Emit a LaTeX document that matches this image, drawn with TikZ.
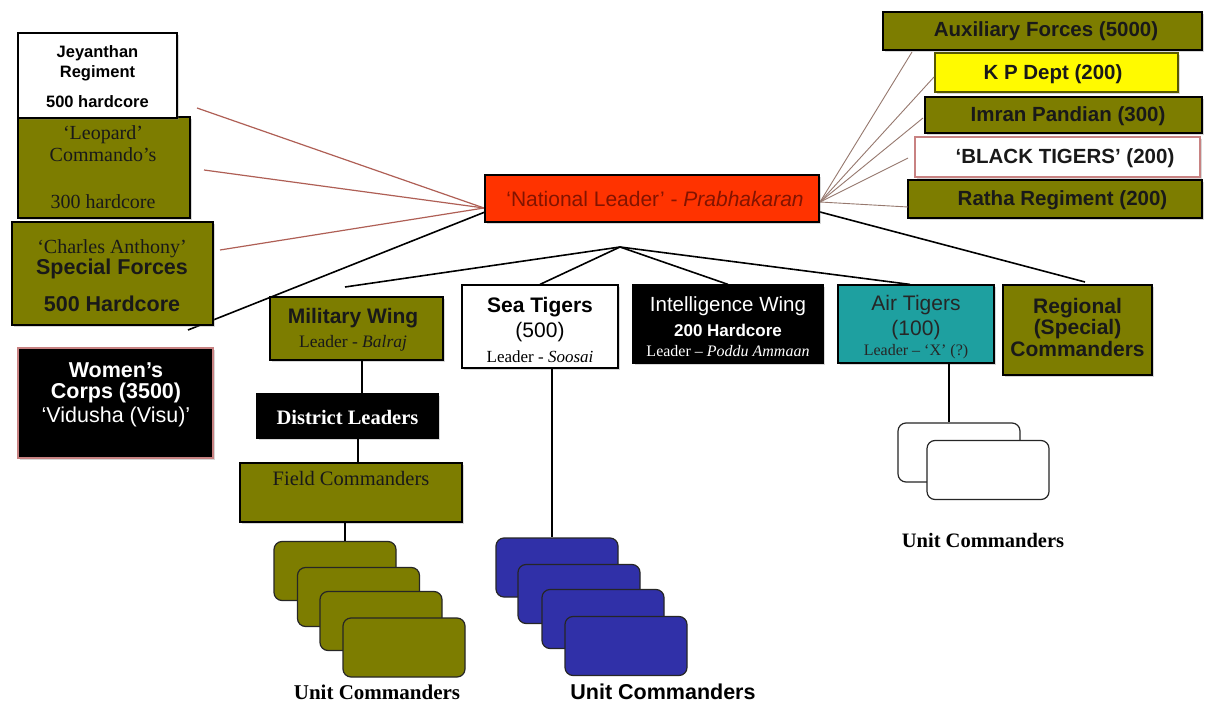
\documentclass[tikz,border=0pt]{standalone}
\usepackage{fontspec}
\setmainfont{Liberation Serif}
\setsansfont{Liberation Sans}
\usetikzlibrary{shadows}
\definecolor{olivebox}{RGB}{125,125,0}
\definecolor{kpyellow}{RGB}{255,250,0}
\definecolor{airteal}{RGB}{30,160,160}
\definecolor{unitblue}{RGB}{48,48,168}
\definecolor{leaderred}{RGB}{255,51,0}
\definecolor{leadertext}{RGB}{130,20,0}
\definecolor{redline}{RGB}{175,95,85}
\definecolor{greyline}{RGB}{150,120,110}
\definecolor{pinkborder}{RGB}{200,130,130}
\begin{document}
\begin{tikzpicture}[x=1pt,y=-1pt,
  box/.style={rectangle,draw=black,line width=1.2pt,inner sep=0pt,
    drop shadow={shadow xshift=2pt,shadow yshift=-2pt,opacity=.3}},
  unitbox/.style={rectangle,rounded corners=8pt,draw=black!85,line width=1.2pt,inner sep=0pt,
    minimum width=122pt,minimum height=59pt},
  txt/.style={inner sep=0pt,align=center},
  blackline/.style={draw=black,line width=1.6pt},
  redcon/.style={draw=redline,line width=1.2pt},
  greycon/.style={draw=greyline,line width=0.9pt},
  plain/.style={draw=black,line width=1.2pt},
  rtxt/.style={txt,font=\sffamily\bfseries\fontsize{20.5}{22}\selectfont,text=black!90}]
\useasboundingbox (0,0) rectangle (1207,703);
\fill[white] (0,0) rectangle (1207,703);

% ---------- coordinates for free connector ends
\coordinate (lhub) at (484,208);
\coordinate (lhubb) at (485,212);
\coordinate (rhub) at (820,202);
\coordinate (rhubb) at (820,212);
\coordinate (hub) at (620,247);
\coordinate (jeyend) at (197,108);
\coordinate (leoend) at (204,170);
\coordinate (chaend) at (220,250);
\coordinate (womend) at (188,330);
\coordinate (milend) at (345,287);
\coordinate (regend) at (1085,282);

% lines first
\draw[redcon] (jeyend) -- (lhub);
\draw[redcon] (leoend) -- (lhub);
\draw[redcon] (chaend) -- (lhub);
\draw[blackline] (womend) -- (lhubb);
\draw[blackline] (rhubb) -- (regend);
\draw[blackline] (hub) -- (milend);

% left column
\node[box,fill=olivebox,minimum width=172pt,minimum height=101pt] (leo) at (104,167.5) {};
\node[box,fill=white,minimum width=159pt,minimum height=85pt] (jey) at (97.5,75.5) {};
\node[box,fill=olivebox,minimum width=201pt,minimum height=103pt] (cha) at (112.5,273.5) {};
\node[box,fill=black,draw=pinkborder,minimum width=195pt,minimum height=110pt] (wom) at (115.5,403) {};

\node[txt,font=\sffamily\bfseries\fontsize{16.5}{20}\selectfont] (jeyt) at (97.5,77) {Jeyanthan\\Regiment\\[10pt]500 hardcore};
\node[txt,font=\fontsize{20}{22}\selectfont,text=black!90] (leot) at (103,167.5) {‘Leopard’\\Commando’s\\[25pt]300 hardcore};
\node[txt,font=\fontsize{20}{21}\selectfont,text=black!90] (chat) at (112,276) {‘Charles Anthony’\\{\sffamily\bfseries\fontsize{21.5}{21}\selectfont Special Forces}\\[16pt]{\sffamily\bfseries\fontsize{21.5}{21}\selectfont 500 Hardcore}};
\node[txt,font=\sffamily\fontsize{21.5}{21}\selectfont,text=white] (womt) at (116,395) {{\bfseries Women’s}\\{\bfseries Corps (3500)}\\[3pt]‘Vidusha (Visu)’};

% right column boxes
\node[box,fill=olivebox,minimum width=319pt,minimum height=38pt] (aux) at (1042.5,31) {};
\node[box,fill=kpyellow,draw=olivebox!70!black,minimum width=243pt,minimum height=39pt] (kp) at (1056.5,72.5) {};
\node[box,fill=olivebox,minimum width=277pt,minimum height=36pt] (imr) at (1063.5,115) {};
\node[box,fill=white,draw=pinkborder,minimum width=285pt,minimum height=40pt] (blk) at (1057.5,157) {};
\node[box,fill=olivebox,minimum width=294pt,minimum height=38pt] (rat) at (1055,199) {};

\node[rtxt] (auxt) at (1046,31) {Auxiliary Forces (5000)};
\node[rtxt] (kpt) at (1053,74) {K P Dept (200)};
\node[rtxt] (imrt) at (1068,116) {Imran Pandian (300)};
\node[rtxt] (blkt) at (1065,158) {‘BLACK TIGERS’ (200)};
\node[rtxt] (ratt) at (1062.5,200) {Ratha Regiment (200)};

% right grey connectors
\draw[greycon] (rhub) -- (912,52) coordinate (auxend);
\draw[greycon] (rhub) -- (934,77) coordinate (kpend);
\draw[greycon] (rhub) -- (923,118) coordinate (imrend);
\draw[greycon] (rhub) -- (908,158) coordinate (blkend);
\draw[greycon] (rhub) -- (908,207) coordinate (ratend);

% national leader
\node[box,fill=leaderred,minimum width=334pt,minimum height=47pt] (ldr) at (652,198.5) {};
\node[txt,font=\sffamily\fontsize{21}{22}\selectfont,text=leadertext] (ldrt) at (655,199) {‘National Leader’ - \textit{Prabhakaran}};

% middle row
\node[box,fill=olivebox,minimum width=173pt,minimum height=63pt] (mil) at (356.5,328.5) {};
\node[box,fill=white,minimum width=156pt,minimum height=83pt] (sea) at (540,326.5) {};
\node[box,fill=black,minimum width=190pt,minimum height=78pt] (int) at (728,324) {};
\node[box,fill=airteal,minimum width=156pt,minimum height=78pt] (air) at (916,324) {};
\node[box,fill=olivebox,minimum width=149pt,minimum height=90pt] (reg) at (1077.5,330) {};

\draw[blackline] (hub) -- (sea.north);
\draw[blackline] (hub) -- (int.north);
\draw[blackline] (hub) -- ([xshift=-6pt]air.north);

\node[txt,font=\fontsize{17.5}{24}\selectfont,text=black!90] (milt) at (353,330) {{\sffamily\bfseries\fontsize{21}{24}\selectfont Military Wing}\\Leader - \textit{Balraj}};
\node[txt,font=\fontsize{17}{25}\selectfont] (seat) at (540,330) {{\sffamily\bfseries\fontsize{21}{25}\selectfont Sea Tigers}\\{\sffamily\fontsize{21}{25}\selectfont (500)}\\Leader - \textit{Soosai}};
\node[txt,font=\fontsize{16}{25}\selectfont,text=white] (intt) at (728,327) {{\sffamily\fontsize{20.5}{25}\selectfont Intelligence Wing}\\{\sffamily\bfseries\fontsize{17}{25}\selectfont 200 Hardcore}\\[-5pt]Leader – \textit{Poddu Ammaan}};
\node[txt,font=\fontsize{16}{25}\selectfont,text=black!85] (airt) at (916,327) {{\sffamily\fontsize{21}{25}\selectfont Air Tigers}\\{\sffamily\fontsize{21}{25}\selectfont (100)}\\[-5pt]Leader – ‘X’ (?)};
\node[txt,font=\sffamily\bfseries\fontsize{21}{21.5}\selectfont,text=black!90] (regt) at (1077.5,327) {Regional\\(Special)\\Commanders};

% military branch
\node[box,fill=black,minimum width=181pt,minimum height=44pt] (dist) at (347.5,416) {};
\node[txt,font=\bfseries\fontsize{20.5}{22}\selectfont,text=white] (distt) at (347.5,417) {District Leaders};
\node[box,fill=olivebox,minimum width=222pt,minimum height=59pt] (field) at (351,492.5) {};
\node[txt,font=\fontsize{20.5}{22}\selectfont,text=black!90] (fieldt) at (351,478) {Field Commanders};

\draw[plain] ([xshift=5.5pt]mil.south) -- ([xshift=5.5pt]mil.south |- dist.north);
\draw[plain] ([xshift=10.5pt]dist.south) -- ([xshift=10.5pt]dist.south |- field.north);

\node[unitbox,fill=olivebox] (o1) at (335,571) {};
\node[unitbox,fill=olivebox] (o2) at (358.5,597) {};
\node[unitbox,fill=olivebox] (o3) at (381,621) {};
\node[unitbox,fill=olivebox] (o4) at (404,647.5) {};
\draw[plain] ([xshift=-6pt]field.south) -- ([xshift=-6pt]field.south |- o1.north);
\node[txt,font=\bfseries\fontsize{21}{22}\selectfont] (ounit) at (377,692) {Unit Commanders};

% sea branch
\node[unitbox,fill=unitblue] (b1) at (557,567.5) {};
\node[unitbox,fill=unitblue] (b2) at (579,594) {};
\node[unitbox,fill=unitblue] (b3) at (603,619) {};
\node[unitbox,fill=unitblue] (b4) at (626,646) {};
\draw[plain] ([xshift=12pt]sea.south) -- ([xshift=12pt]sea.south |- b1.north);
\node[txt,font=\sffamily\bfseries\fontsize{21.5}{22}\selectfont] (bunit) at (663,692) {Unit Commanders};

% air branch
\node[unitbox,fill=white] (w1) at (959,452.5) {};
\node[unitbox,fill=white] (w2) at (988,470) {};
\draw[plain] ([xshift=33pt]air.south) -- ([xshift=33pt]air.south |- w1.north);
\node[txt,font=\bfseries\fontsize{20.5}{22}\selectfont] (wunit) at (983,540) {Unit Commanders};
\end{tikzpicture}
\end{document}
